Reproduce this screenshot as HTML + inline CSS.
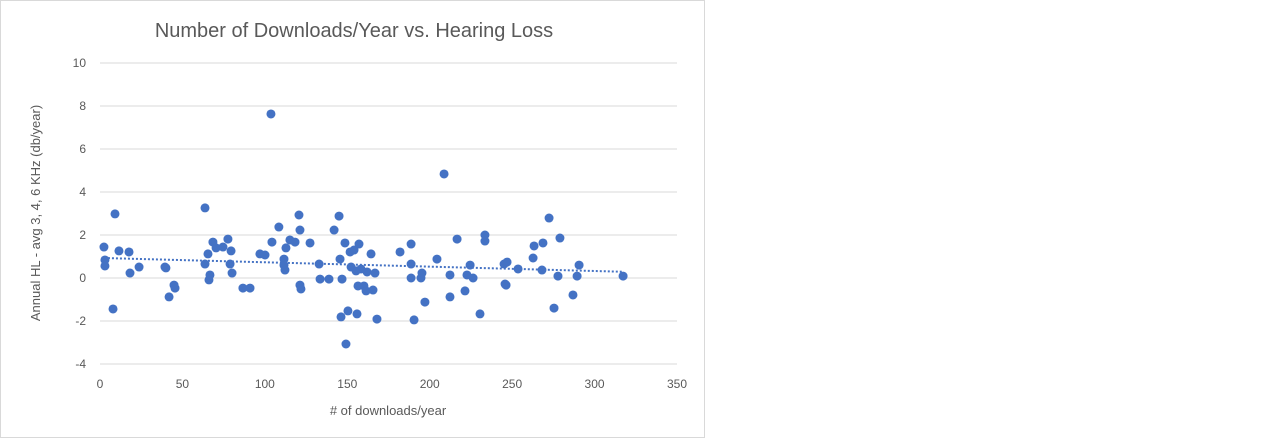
<!DOCTYPE html>
<html><head><meta charset="utf-8"><style>
body{margin:0;width:1280px;height:440px;background:#fff;overflow:hidden;font-family:"Liberation Sans",sans-serif}
#chart{position:absolute;left:0;top:0;width:705px;height:438px;border:1px solid #d9d9d9;box-sizing:border-box}
</style></head><body>
<div id="chart">
<svg id="svg" width="705" height="438">
<text x="353" y="36" text-anchor="middle" font-size="20" fill="#595959">Number of Downloads/Year vs. Hearing Loss</text>
<text transform="translate(39,212) rotate(-90)" text-anchor="middle" font-size="13" fill="#595959">Annual HL - avg 3, 4, 6 KHz (db/year)</text>
<text x="387" y="414" text-anchor="middle" font-size="13" fill="#595959"># of downloads/year</text>
<g id="grid"></g><g id="ticks"></g><g id="trend"></g><g id="pts"></g>
</svg></div>
<script>
const xs=[2.4,3,3,9.1,7.9,11.5,17.6,18.2,23.7,39.4,40,41.9,44.9,45.5,63.7,63.7,65.5,66.1,66.7,68.5,70.4,74.6,77.6,78.9,79.5,80.1,86.7,91,97,100.1,103.7,104.3,108.5,111.6,111.6,112.2,112.8,115.2,118.3,120.7,121.3,121.3,121.9,127.4,132.9,133.5,138.9,142,145,145.6,146.2,146.8,148.6,149.2,150.4,151.7,152.3,154.1,155.3,155.9,156.5,157.1,158.3,160.1,161.4,162,164.4,165.6,166.8,168,182,188.7,188.7,188.7,190.5,194.7,195.3,197.1,204.4,208.7,212.3,212.3,216.6,221.4,222.6,224.5,226.3,230.5,233.5,233.5,245.1,245.7,246.3,246.9,253.6,262.7,263.3,268.1,268.7,272.4,275.4,277.8,279,286.9,289.4,290.6,317.3];
const ys=[1.44,0.84,0.56,2.98,-1.44,1.26,1.21,0.23,0.51,0.51,0.47,-0.88,-0.33,-0.47,3.26,0.65,1.12,-0.09,0.14,1.67,1.4,1.44,1.81,0.65,1.26,0.23,-0.47,-0.47,1.12,1.07,7.63,1.67,2.37,0.88,0.6,0.37,1.4,1.77,1.67,2.93,2.23,-0.33,-0.51,1.63,0.65,-0.05,-0.05,2.23,2.88,0.88,-1.81,-0.05,1.63,-3.07,-1.53,1.21,0.51,1.3,0.33,-1.67,-0.37,1.58,0.42,-0.37,-0.6,0.28,1.12,-0.56,0.23,-1.91,1.21,1.58,0.65,0,-1.95,0,0.23,-1.12,0.88,4.84,-0.88,0.14,1.81,-0.6,0.14,0.6,0,-1.67,2.0,1.72,0.65,-0.28,-0.33,0.74,0.42,0.93,1.49,0.37,1.63,2.79,-1.4,0.09,1.86,-0.79,0.09,0.6,0.09];
const yTicks=[-4,-2,0,2,4,6,8,10];
const xTicks=[0,50,100,150,200,250,300,350];
const NS="http://www.w3.org/2000/svg";
const X=v=>99+v*(577/350), Y=v=>277-v*21.5;
function mk(t,a,p){const e=document.createElementNS(NS,t);for(const k in a)e.setAttribute(k,a[k]);p.appendChild(e);return e;}
const g=document.getElementById('grid'),tk=document.getElementById('ticks'),tr=document.getElementById('trend'),pg=document.getElementById('pts');
yTicks.forEach(v=>{const l=mk('line',{x1:99,x2:676,y1:Y(v),y2:Y(v),stroke:'#d9d9d9','stroke-width':1},g);


const t=mk('text',{x:85,y:Y(v)+4,'text-anchor':'end','font-size':12,fill:'#595959'},tk);t.textContent=v;

});
xTicks.forEach(v=>{const t=mk('text',{x:X(v),y:387,'text-anchor':'middle','font-size':12,fill:'#595959'},tk);t.textContent=v;

});
const n=xs.length;let sx=0,sy=0,sxx=0,sxy=0;for(let i=0;i<n;i++){sx+=xs[i];sy+=ys[i];sxx+=xs[i]*xs[i];sxy+=xs[i]*ys[i];}
const m=(n*sxy-sx*sy)/(n*sxx-sx*sx),b=(sy-m*sx)/n;
const x0=Math.min(...xs),x1=Math.max(...xs);
const tl=mk('line',{x1:X(x0),y1:Y(m*x0+b),x2:X(x1),y2:Y(m*x1+b),stroke:'#4472c4','stroke-width':2,'stroke-dasharray':'2,2'},tr);


for(let i=0;i<n;i++){const c=mk('circle',{cx:X(xs[i]),cy:Y(ys[i]),r:4.5,fill:'#4472c4'},pg);

}
</script>
</body></html>
